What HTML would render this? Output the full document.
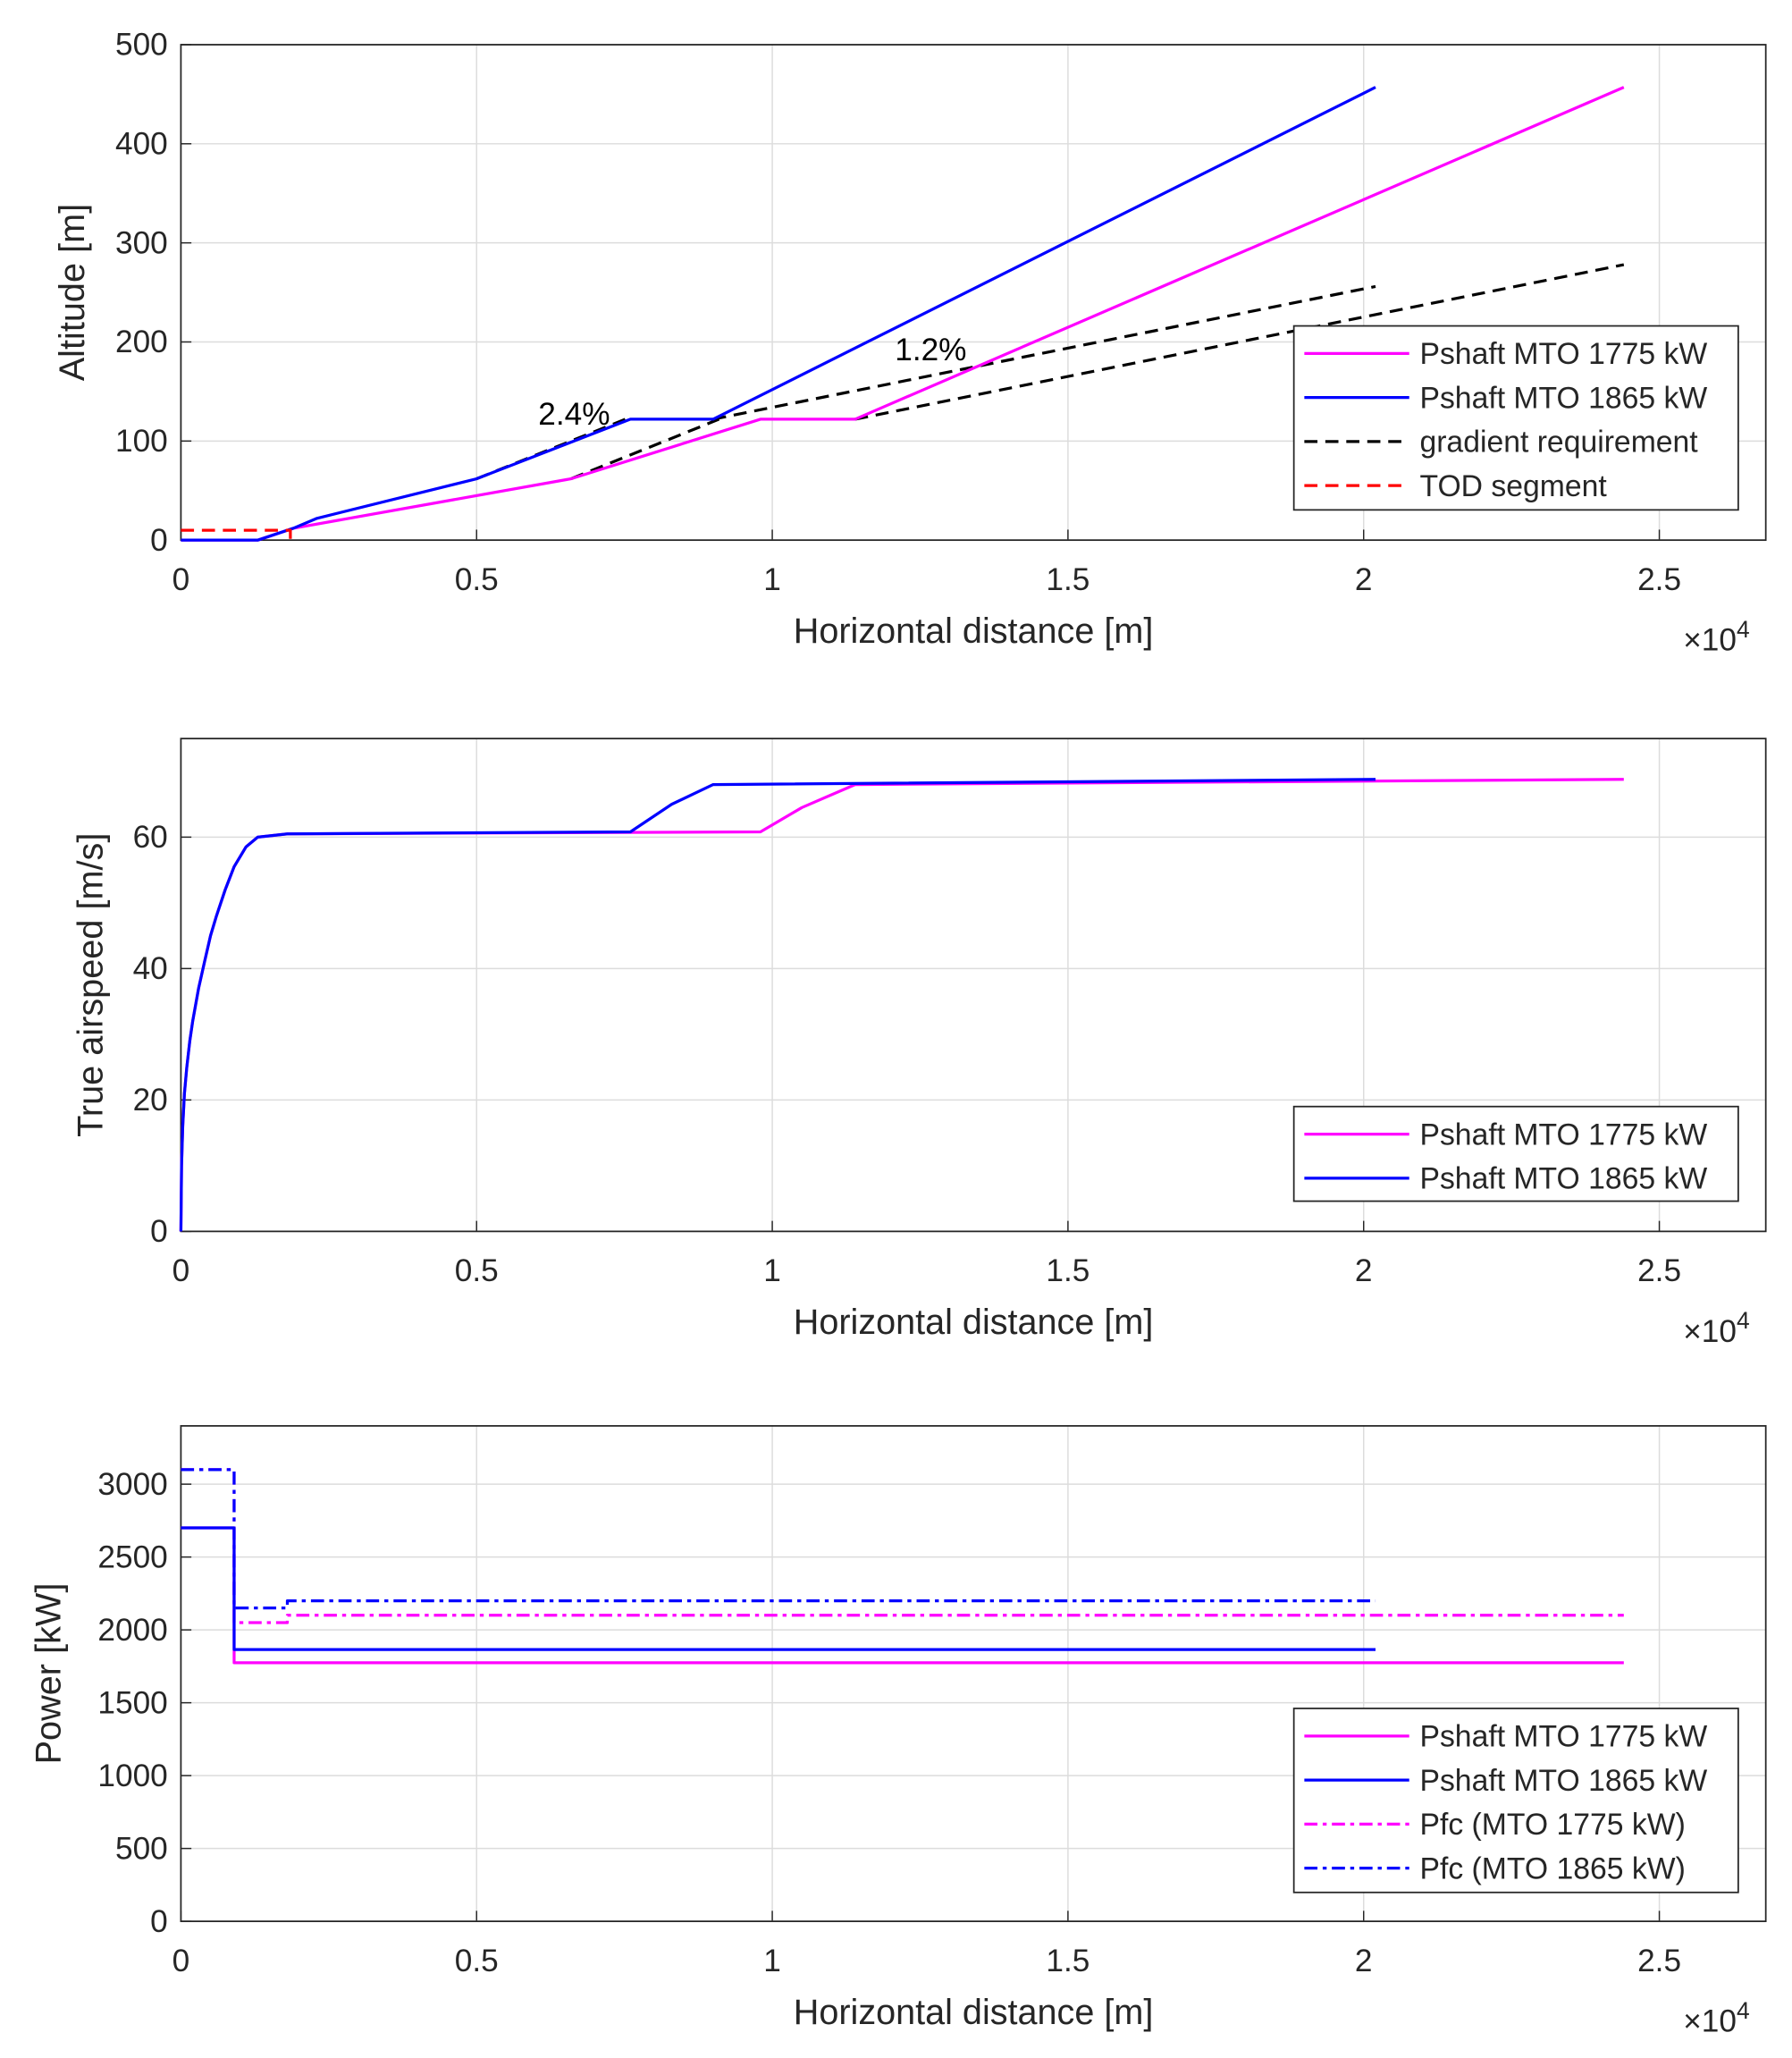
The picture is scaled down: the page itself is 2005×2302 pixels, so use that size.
<!DOCTYPE html>
<html><head><meta charset="utf-8"><style>
html,body{margin:0;padding:0;background:#fff;}
svg{display:block;font-family:"Liberation Sans",Arial,sans-serif;}
</style></head><body>
<svg id="fig" width="2005" height="2302" viewBox="0 0 1367 1566" preserveAspectRatio="none" xmlns="http://www.w3.org/2000/svg"></svg>
<script>
// ---- data ----
const xTicks=[0,5000,10000,15000,20000,25000];
const xTickLabels=["0","0.5","1","1.5","2","2.5"];
// panel 1: altitude
const altTicks=[0,100,200,300,400,500];
const alt1775X=[0,1300,1900,6600,9800,11400,24400];
const alt1775Y=[0,0,12,62,122,122,457];
const alt1865X=[0,1300,1900,2300,5000,7600,9000,20200];
const alt1865Y=[0,0,12,22,62,122,122,457];
const grad1X=[5000,7600]; const grad1Y=[62,124];
const grad2X=[9000,20200]; const grad2Y=[122,256];
const grad3X=[6600,9100]; const grad3Y=[62,122];
const grad4X=[11400,24400]; const grad4Y=[122,278];
const todX=[0,1850,1850]; const todY=[10,10,0];
// panel 2: airspeed
const tasTicks=[0,20,40,60];
const tas1865X=[0,10,30,60,100,150,200,300,400,500,600,750,900,1100,1300,1800,7600,8300,9000,20200];
const tas1865Y=[0,10,16,21,25,29,32,37,41,45,48,52,55.5,58.5,60,60.5,60.8,65,68,68.8];
const tas1775X=[0,10,30,60,100,150,200,300,400,500,600,750,900,1100,1300,1800,9800,10500,11400,24400];
const tas1775Y=[0,10,16,21,25,29,32,37,41,45,48,52,55.5,58.5,60,60.5,60.8,64.5,68,68.8];
// panel 3: power
const pwrTicks=[0,500,1000,1500,2000,2500,3000];
const ps1775X=[0,900,900,24400]; const ps1775Y=[2700,2700,1775,1775];
const ps1865X=[0,900,900,20200]; const ps1865Y=[2700,2700,1865,1865];
const pfc1775X=[0,900,900,1800,1800,24400]; const pfc1775Y=[3100,3100,2050,2050,2100,2100];
const pfc1865X=[0,900,900,1800,1800,20200]; const pfc1865Y=[3100,3100,2150,2150,2200,2200];

const NS="http://www.w3.org/2000/svg";
const svg=document.getElementById('fig');
function mk(tag,attrs,parent){const e=document.createElementNS(NS,tag);for(const k in attrs)e.setAttribute(k,attrs[k]);(parent||svg).appendChild(e);return e;}
const MAG="#ff00ff",BLU="#0000ff";
const L=138,R=1347,XMAX=26800;
const sx=v=>L+(R-L)*v/XMAX;

function panel(name,top,bot,ymax,yTicks,ylabel,ylabelX){
  const g=mk('g',{});  
  const sy=v=>bot-(bot-top)*v/ymax;
  mk('rect',{x:L,y:top,width:R-L,height:bot-top,fill:'#fff'},g);
  xTicks.forEach((t,i)=>{const x=sx(t);
    const gl=mk('line',{x1:x,x2:x,y1:top,y2:bot,stroke:'#dcdcdc','stroke-width':1},g);
    
    mk('line',{x1:x,x2:x,y1:bot,y2:bot-8,stroke:'#262626'},g);
    const tx=mk('text',{x:x,y:bot+38,'text-anchor':'middle','font-size':24,fill:'#262626'},g);tx.textContent=xTickLabels[i];
    });
  yTicks.forEach(t=>{const y=sy(t);
    const gl=mk('line',{x1:L,x2:R,y1:y,y2:y,stroke:'#dcdcdc','stroke-width':1},g);
    
    mk('line',{x1:L,x2:L+8,y1:y,y2:y,stroke:'#262626'},g);
    const tx=mk('text',{x:L-10,y:y+8,'text-anchor':'end','font-size':24,fill:'#262626'},g);tx.textContent=t;
    });
  const fr=mk('rect',{x:L,y:top,width:R-L,height:bot-top,fill:'none',stroke:'#262626','stroke-width':1.2},g);
  
  const xl=mk('text',{x:(L+R)/2,y:bot+78,'text-anchor':'middle','font-size':27,fill:'#262626'},g);xl.textContent='Horizontal distance [m]';
  
  const yl=mk('text',{x:ylabelX,y:(top+bot)/2,'text-anchor':'middle','font-size':27,fill:'#262626',transform:`rotate(-90 ${ylabelX} ${(top+bot)/2})`},g);yl.textContent=ylabel;
  
  const ex=mk('text',{x:1284,y:bot+84,'font-size':24,fill:'#262626'},g);
  ex.innerHTML='×10<tspan dy="-10" font-size="18">4</tspan>';
  
  return {g,sy};
}
function line(p,xs,ys,color,dash,name){
  const d=xs.map((x,i)=>(i?'L':'M')+sx(x).toFixed(1)+' '+p.sy(ys[i]).toFixed(1)).join(' ');
  const e=mk('path',{d:d,fill:'none',stroke:color,'stroke-width':2.2,'stroke-dasharray':dash||'none','stroke-linejoin':'round'},p.g);
  
  
}
function legend(g,x,y,h,entries){
  const lg=mk('g',{},g);
  mk('rect',{x:x,y:y,width:339,height:h,fill:'#fff',stroke:'#262626','stroke-width':1.2},lg);
  entries.forEach((en,i)=>{const yy=y+21+i*33.5;
    const it=mk('g',{},lg);
    
    
    mk('line',{x1:x+8,x2:x+88,y1:yy,y2:yy,stroke:en[1],'stroke-width':2.2,'stroke-dasharray':en[2]||'none'},it);
    const t=mk('text',{x:x+96,y:yy+8,'font-size':23,fill:'#262626'},it);t.textContent=en[0];});
}
const DASH='10 6', DD='10 4 3 4';
// panel 1
const p1=panel('altitude-chart',34,411,500,altTicks,'Altitude [m]',64);
line(p1,grad1X,grad1Y,'#000',DASH,'gradient-line-1');
line(p1,grad2X,grad2Y,'#000',DASH,'gradient-line-2');
line(p1,grad3X,grad3Y,'#000',DASH,'gradient-line-3');
line(p1,grad4X,grad4Y,'#000',DASH,'gradient-line-4');
line(p1,alt1775X,alt1775Y,MAG,null,'altitude-1775kw');
line(p1,alt1865X,alt1865Y,BLU,null,'altitude-1865kw');
line(p1,todX,todY,'#ff0000',DASH,'tod-segment');
let a=mk('text',{x:438,y:323,'text-anchor':'middle','font-size':24,fill:'#000'},p1.g);a.textContent='2.4%';

a=mk('text',{x:710,y:274,'text-anchor':'middle','font-size':24,fill:'#000'},p1.g);a.textContent='1.2%';

legend(p1.g,987,248,140,[['Pshaft MTO 1775 kW',MAG],['Pshaft MTO 1865 kW',BLU],['gradient requirement','#000',DASH],['TOD segment','#ff0000',DASH]]);
// panel 2
const p2=panel('airspeed-chart',562,937,75,tasTicks,'True airspeed [m/s]',78);
line(p2,tas1775X,tas1775Y,MAG,null,'airspeed-1775kw');
line(p2,tas1865X,tas1865Y,BLU,null,'airspeed-1865kw');
legend(p2.g,987,842,72,[['Pshaft MTO 1775 kW',MAG],['Pshaft MTO 1865 kW',BLU]]);
// panel 3
const p3=panel('power-chart',1085,1462,3400,pwrTicks,'Power [kW]',46);
line(p3,pfc1775X,pfc1775Y,MAG,DD,'pfc-1775kw');
line(p3,pfc1865X,pfc1865Y,BLU,DD,'pfc-1865kw');
line(p3,ps1775X,ps1775Y,MAG,null,'pshaft-1775kw');
line(p3,ps1865X,ps1865Y,BLU,null,'pshaft-1865kw');
legend(p3.g,987,1300,140,[['Pshaft MTO 1775 kW',MAG],['Pshaft MTO 1865 kW',BLU],['Pfc (MTO 1775 kW)',MAG,DD],['Pfc (MTO 1865 kW)',BLU,DD]]);
</script>
</body></html>
